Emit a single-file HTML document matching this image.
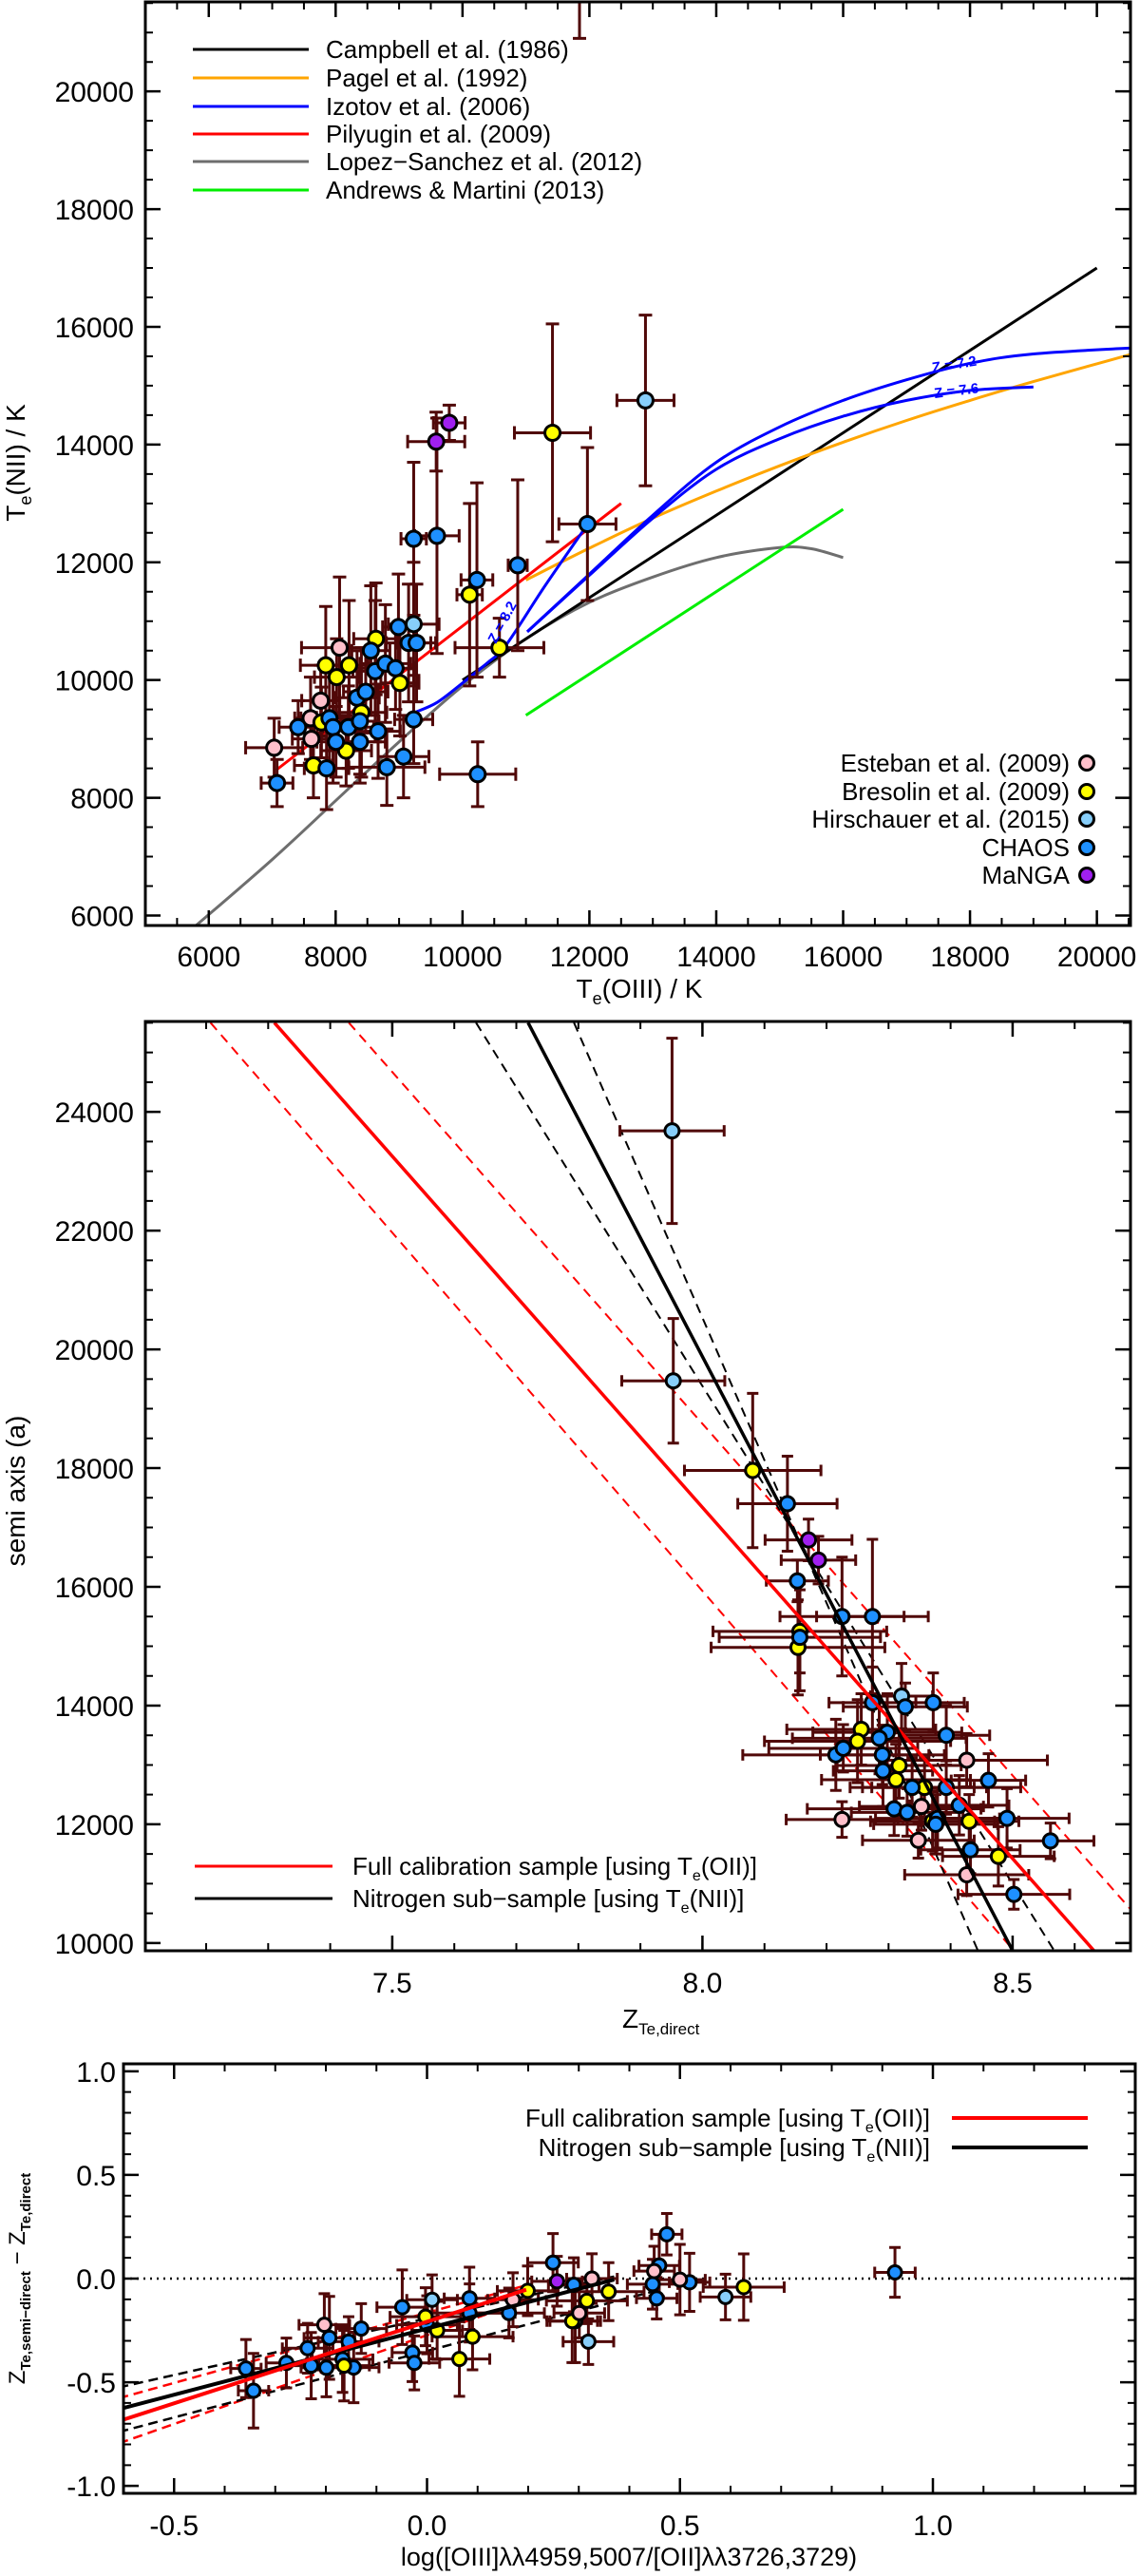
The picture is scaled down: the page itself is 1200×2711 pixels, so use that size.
<!DOCTYPE html>
<html><head><meta charset="utf-8"><title>Te calibration figures</title>
<style>
html,body{margin:0;padding:0;background:#fff;}
svg{display:block;font-family:"Liberation Sans",sans-serif;}
</style></head>
<body>
<svg id="fig" width="1200" height="2711" viewBox="0 0 1200 2711" xmlns="http://www.w3.org/2000/svg">
<rect x="0" y="0" width="1200" height="2711" fill="#fff"/>
<defs>
<clipPath id="c1"><rect x="153" y="2" width="1037" height="972"/></clipPath>
<clipPath id="c2"><rect x="153" y="1075" width="1037" height="978"/></clipPath>
<clipPath id="c3"><rect x="130" y="2172" width="1065" height="452"/></clipPath>
</defs>
<g id="p1"></g>
<g id="p2"></g>
<g id="p3"></g>

<!-- Panel 1 labels -->
<text x="673" y="1050" font-size="28" text-anchor="middle">T<tspan font-size="18" dy="7">e</tspan><tspan dy="-7">(OIII)  /  K</tspan></text>
<text transform="translate(26,487) rotate(-90)" font-size="28" text-anchor="middle">T<tspan font-size="18" dy="7">e</tspan><tspan dy="-7">(NII)  /  K</tspan></text>
<g font-size="26">
<line x1="203" y1="52" x2="325" y2="52" stroke="#000" stroke-width="3"/><text x="343" y="61">Campbell et al. (1986)</text>
<line x1="203" y1="82" x2="325" y2="82" stroke="#ffa500" stroke-width="3"/><text x="343" y="91">Pagel et al. (1992)</text>
<line x1="203" y1="112" x2="325" y2="112" stroke="#0000ff" stroke-width="3"/><text x="343" y="121">Izotov et al. (2006)</text>
<line x1="203" y1="141" x2="325" y2="141" stroke="#ff0000" stroke-width="3"/><text x="343" y="150">Pilyugin et al. (2009)</text>
<line x1="203" y1="170" x2="325" y2="170" stroke="#6e6e6e" stroke-width="3"/><text x="343" y="179">Lopez−Sanchez et al. (2012)</text>
<line x1="203" y1="200" x2="325" y2="200" stroke="#00ee00" stroke-width="3"/><text x="343" y="209">Andrews &amp; Martini (2013)</text>
</g>
<g font-size="26" text-anchor="end">
<text x="1126" y="812">Esteban et al. (2009)</text><circle cx="1144" cy="803" r="7.5" fill="#ffc0cb" stroke="#000" stroke-width="3"/>
<text x="1126" y="842">Bresolin et al. (2009)</text><circle cx="1144" cy="833" r="7.5" fill="#ffff00" stroke="#000" stroke-width="3"/>
<text x="1126" y="871">Hirschauer et al. (2015)</text><circle cx="1144" cy="862" r="7.5" fill="#87cefa" stroke="#000" stroke-width="3"/>
<text x="1126" y="901">CHAOS</text><circle cx="1144" cy="892" r="7.5" fill="#1e90ff" stroke="#000" stroke-width="3"/>
<text x="1126" y="930">MaNGA</text><circle cx="1144" cy="921" r="7.5" fill="#a020f0" stroke="#000" stroke-width="3"/>
</g>
<text x="982" y="392" font-size="15" font-weight="bold" fill="#0000ff" transform="rotate(-9 982 392)">Z = 7.2</text>
<text x="984" y="419" font-size="15" font-weight="bold" fill="#0000ff" transform="rotate(-7 984 419)">Z = 7.6</text>
<text x="522" y="678" font-size="15" font-weight="bold" fill="#0000ff" transform="rotate(-62 522 678)">Z = 8.2</text>

<!-- Panel 2 labels -->
<text x="655" y="2134" font-size="28">Z<tspan font-size="17" dy="7">Te,direct</tspan></text>
<text transform="translate(26,1569) rotate(-90)" font-size="28" text-anchor="middle">semi axis (a)</text>
<g font-size="26">
<line x1="205" y1="1964" x2="350" y2="1964" stroke="#ff0000" stroke-width="3"/>
<text x="371" y="1973">Full calibration sample [using T<tspan font-size="16" dy="6">e</tspan><tspan dy="-6">(OII)]</tspan></text>
<line x1="205" y1="1998" x2="350" y2="1998" stroke="#000" stroke-width="3"/>
<text x="371" y="2007">Nitrogen sub−sample [using T<tspan font-size="16" dy="6">e</tspan><tspan dy="-6">(NII)]</tspan></text>
</g>

<!-- Panel 3 labels -->
<text x="662" y="2700" font-size="27" text-anchor="middle">log([OIII]λλ4959,5007/[OII]λλ3726,3729)</text>
<text transform="translate(26,2398) rotate(-90)" font-size="24" text-anchor="middle">Z<tspan font-size="15" dy="6" font-weight="bold">Te,semi−direct</tspan><tspan dy="-6">  −  Z</tspan><tspan font-size="15" dy="6" font-weight="bold">Te,direct</tspan></text>
<g font-size="26" text-anchor="end">
<text x="979" y="2238">Full calibration sample [using T<tspan font-size="16" dy="6">e</tspan><tspan dy="-6">(OII)]</tspan></text>
<line x1="1002" y1="2229" x2="1145" y2="2229" stroke="#ff0000" stroke-width="4"/>
<text x="979" y="2269">Nitrogen sub−sample [using T<tspan font-size="16" dy="6">e</tspan><tspan dy="-6">(NII)]</tspan></text>
<line x1="1002" y1="2260" x2="1145" y2="2260" stroke="#000" stroke-width="4"/>
</g>
</svg>

<script>
// ---------------- Panel 1 data ----------------
const p1XTicks = [6000, 8000, 10000, 12000, 14000, 16000, 18000, 20000];
const p1YTicks = [6000, 8000, 10000, 12000, 14000, 16000, 18000, 20000];
const p1TeO3 = [7031,7617,7605,7765,8062, 7844,8016,8211,8635,7650,7776,8406,8165,9013,10112,10582,11418, 9230,12884,
  7076,7409,7856,7902,7959,8005,8200,8337,8474,8383,8383,8555,8623,8784,8669,8944,8807,8990,9070,9150,9276,9230,9230,9597,10227,10870,11969,10239, 9585,9791, 11844];
const p1TeN2 = [8850,9000,9350,9650,10550, 10250,10050,10250,10700,8550,9280,9450,8800,9950,11450,10550,14200, 10950,14750,
  8250,9200,8500,9350,9200,8950,9200,9700,9800,8950,9300,10500,10150,10280,9130,10200,8520,10900,8700,10630,10630,9330,12400,12450,11700,11950,12650,8400, 14050,14370, 23000];
const p1ErrX = [450,300,250,300,600, 400,350,300,350,300,350,400,400,300,200,700,600, 400,450,
  250,300,350,450,300,300,400,350,350,400,300,300,350,400,350,300,600,250,400,350,300,300,200,350,250,150,450,600, 450,250, 0];
const p1ErrY = [500,450,700,600,1200, 1000,650,1100,950,550,600,1100,600,900,1550,500,1850, 1050,1450,
  400,450,700,800,950,600,700,800,700,700,900,1100,1200,1000,800,700,650,900,700,1000,1000,750,1300,2000,1650,1450,1300,550, 500,300, 2100];
const p1Type = ['pink','pink','pink','pink','pink','yellow','yellow','yellow','yellow','yellow','yellow','yellow','yellow','yellow','yellow','yellow','yellow','lblue','lblue',
  'blue','blue','blue','blue','blue','blue','blue','blue','blue','blue','blue','blue','blue','blue','blue','blue','blue','blue','blue','blue','blue','blue','blue','blue','blue','blue','blue','blue','purple','purple','blue'];

const campbellX = [10000, 20000];
const campbellY = [10000, 17000];
const pagelX = [11000, 12000, 13000, 14000, 15000, 16000, 17000, 18000, 19000, 20530];
const pagelY = [11700, 12240, 12750, 13210, 13640, 14040, 14410, 14750, 15070, 15530];
const pilyuginX = [7060, 12500];
const pilyuginY = [8470, 13000];
const izotov82X = [9250, 9600, 10000, 10400, 10690, 11300, 11962];
const izotov82Y = [9450, 9620, 9950, 10300, 10600, 11600, 12630];
const izotov72X = [11020, 12000, 13000, 14000, 15000, 16000, 17000, 18000, 19000, 20530];
const izotov72Y = [10820, 11800, 12800, 13700, 14300, 14750, 15100, 15380, 15540, 15640];
const izotov76X = [11020, 12000, 13000, 14000, 15000, 16000, 17000, 18000, 19000];
const izotov76Y = [10820, 11780, 12750, 13580, 14100, 14480, 14750, 14920, 14980];
const lopezX = [5800, 7000, 8000, 9000, 10000, 11000, 12000, 13000, 14000, 15000, 15500, 16000];
const lopezY = [5830, 6950, 7950, 8950, 9900, 10700, 11320, 11750, 12080, 12250, 12230, 12080];
const andrewsX = [11000, 16000];
const andrewsY = [9400, 12900];

// ---------------- Panel 2 data ----------------
const p2XTicks = [7.5, 8.0, 8.5];
const p2YTicks = [10000, 12000, 14000, 16000, 18000, 20000, 22000, 24000];
const p2Z = [7.951,7.953,8.321, 8.081,8.157,8.154,8.256,8.250,8.317,8.312,8.358,8.371,8.430,8.477,
  8.137,8.153,8.225,8.274,8.157,8.274,8.327,8.372,8.393,8.298,8.285,8.290,8.215,8.227,8.291,8.338,8.393,8.309,8.330,8.379,8.414,8.461,8.491,8.561,8.502,8.432,8.376,
  8.171,8.187, 8.225,8.353,8.348,8.426,8.426];
const p2A = [23680,19470,14160, 17960,15250,14980,13600,13400,12990,12750,12620,12050,12050,11460,
  17400,16100,15500,15500,15150,14050,13980,14050,13500,13550,13450,13170,13170,13280,12900,12620,12620,12260,12200,12100,12320,12740,12100,11720,10820,11570,12000,
  16790,16450, 12080,12300,11730,13080,11150];
const p2ErrZ = [0.084,0.083,0.05, 0.11,0.14,0.14,0.12,0.15,0.1,0.12,0.1,0.1,0.08,0.09,
  0.08,0.05,0.1,0.09,0.13,0.07,0.1,0.05,0.07,0.12,0.14,0.1,0.15,0.12,0.08,0.1,0.12,0.14,0.09,0.1,0.08,0.06,0.1,0.07,0.09,0.08,0.1,
  0.07,0.06, 0.09,0.1,0.09,0.13,0.1];
const p2ErrA = [1560,1050,550, 1300,700,800,600,700,550,600,500,500,450,500,
  800,350,1000,1300,900,600,400,500,500,650,600,500,600,400,600,500,450,450,400,500,500,450,500,300,250,400,500,
  350,400, 300,400,300,450,350];
const p2Type = ['lblue','lblue','lblue','yellow','yellow','yellow','yellow','yellow','yellow','yellow','yellow','yellow','yellow','yellow',
  'blue','blue','blue','blue','blue','blue','blue','blue','blue','blue','blue','blue','blue','blue','blue','blue','blue','blue','blue','blue','blue','blue','blue','blue','blue','blue','blue',
  'purple','purple','pink','pink','pink','pink','pink'];
const p2FitRedX = [7.310, 8.631];
const p2FitRedY = [25502, 9871];
const p2FitRedLoX = [7.207, 8.502];
const p2FitRedLoY = [25502, 9871];
const p2FitRedHiX = [7.430, 8.702];
const p2FitRedHiY = [25502, 10429];
const p2FitBlkX = [7.719, 8.500];
const p2FitBlkY = [25502, 9871];
const p2FitBlkAX = [7.635, 8.567];
const p2FitBlkAY = [25502, 9871];
const p2FitBlkBX = [7.793, 8.444];
const p2FitBlkBY = [25502, 9871];

// ---------------- Panel 3 data ----------------
const p3XTicks = [-0.5, 0.0, 0.5, 1.0];
const p3YTicks = [-1.0, -0.5, 0.0, 0.5, 1.0];
const p3LogR = [-0.358,-0.343,-0.278,-0.236,-0.229,-0.199,-0.193,-0.167,-0.155,-0.145,-0.130,-0.049,-0.029,-0.025,0.084,0.084,0.249,0.290,0.454,0.446,0.459,0.474,0.519,0.925,0.162,0.000,
  0.010,0.319,0.590,0.293,
  -0.164,-0.003,0.020,0.064,0.090,0.199,0.287,0.316,0.359,0.626,
  -0.203,0.170,0.301,0.326,0.449,0.500,
  0.257];
const p3dZ = [-0.434,-0.541,-0.407,-0.336,-0.420,-0.430,-0.286,-0.389,-0.304,-0.429,-0.241,-0.138,-0.357,-0.407,-0.095,-0.166,0.077,-0.030,-0.095,-0.027,0.063,0.214,-0.018,0.030,-0.166,-0.223,
  -0.102,-0.304,-0.089,-0.205,
  -0.420,-0.184,-0.250,-0.388,-0.280,-0.059,-0.205,-0.107,-0.063,-0.041,
  -0.223,-0.102,-0.166,0.000,0.036,-0.005,
  -0.013];
const p3ErrX = [0.03,0.03,0.04,0.05,0.06,0.05,0.05,0.06,0.06,0.05,0.05,0.05,0.04,0.05,0.05,0.09,0.05,0.05,0.04,0.05,0.04,0.03,0.04,0.04,0.07,0.06,
  0.05,0.05,0.05,0.05,
  0.05,0.07,0.05,0.06,0.08,0.06,0.05,0.08,0.07,0.08,
  0.05,0.05,0.05,0.05,0.04,0.05,
  0.05];
const p3ErrY = [0.14,0.18,0.12,0.12,0.16,0.14,0.2,0.16,0.12,0.17,0.12,0.18,0.14,0.13,0.15,0.14,0.14,0.13,0.1,0.12,0.15,0.1,0.14,0.12,0.12,0.14,
  0.12,0.11,0.11,0.2,
  0.17,0.14,0.14,0.18,0.16,0.12,0.2,0.11,0.14,0.16,
  0.15,0.13,0.12,0.12,0.12,0.17,
  0.12];
const p3Type = ['blue','blue','blue','blue','blue','blue','blue','blue','blue','blue','blue','blue','blue','blue','blue','blue','blue','blue','blue','blue','blue','blue','blue','blue','blue','blue',
  'lblue','lblue','lblue','lblue',
  'yellow','yellow','yellow','yellow','yellow','yellow','yellow','yellow','yellow','yellow',
  'pink','pink','pink','pink','pink','pink','purple'];
const p3FitRedX = [-0.609, 0.196];
const p3FitRedY = [-0.6875, -0.0536];
const p3FitRedHiX = [-0.609, 0.196];
const p3FitRedHiY = [-0.577, -0.032];
const p3FitRedLoX = [-0.609, 0.196];
const p3FitRedLoY = [-0.795, -0.105];
const p3FitBlkX = [-0.609, 0.370];
const p3FitBlkY = [-0.630, -0.005];
const p3FitBlkHiX = [-0.609, 0.370];
const p3FitBlkHiY = [-0.525, 0.010];
const p3FitBlkLoX = [-0.609, 0.450];
const p3FitBlkLoY = [-0.740, -0.060];

// ---------------- drawing ----------------
const NS = 'http://www.w3.org/2000/svg';
const COLORS = {pink:'#ffc0cb', yellow:'#ffff00', lblue:'#87cefa', blue:'#1e90ff', purple:'#a020f0'};
const ERRC = '#500808';
function mk(tag, attrs, parent){
  const e = document.createElementNS(NS, tag);
  for (const k in attrs) e.setAttribute(k, attrs[k]);
  parent.appendChild(e);
  return e;
}
function scale(d0, d1, r0, r1){ return v => r0 + (v - d0) / (d1 - d0) * (r1 - r0); }

function drawFrame(g, box, sx, sy, xt, yt, xMinor, yMinor, xr, yr, fmtX, fmtY, xLabY, yLabX){
  const frame = mk('rect', {x:box.l, y:box.t, width:box.r-box.l, height:box.b-box.t, fill:'none', stroke:'#000', 'stroke-width':3}, g);
  
  
  const n0 = Math.ceil(xr[0]/xMinor - 1e-6), n1 = Math.floor(xr[1]/xMinor + 1e-6);
  for (let i = n0; i <= n1; i++){
    const x = sx(i*xMinor);
    const t = mk('path', {d:`M${x},${box.b}v-8M${x},${box.t}v8`, stroke:'#000', 'stroke-width':2}, g);
    
    
  }
  const m0 = Math.ceil(yr[0]/yMinor - 1e-6), m1 = Math.floor(yr[1]/yMinor + 1e-6);
  for (let i = m0; i <= m1; i++){
    const y = sy(i*yMinor);
    const t = mk('path', {d:`M${box.l},${y}h8M${box.r},${y}h-8`, stroke:'#000', 'stroke-width':2}, g);
    
    
  }
  xt.forEach(v => {
    const x = sx(v);
    const t = mk('path', {d:`M${x},${box.b}v-16M${x},${box.t}v16`, stroke:'#000', 'stroke-width':2.5}, g);
    
    
    const lb = mk('text', {x:x, y:xLabY, 'font-size':30, 'text-anchor':'middle'}, g);
    
    
    lb.textContent = fmtX(v);
  });
  yt.forEach(v => {
    const y = sy(v);
    const t = mk('path', {d:`M${box.l},${y}h16M${box.r},${y}h-16`, stroke:'#000', 'stroke-width':2.5}, g);
    
    
    const lb = mk('text', {x:yLabX, y:y+11, 'font-size':30, 'text-anchor':'end'}, g);
    
    
    lb.textContent = fmtY(v);
  });
}
function smoothPath(pts){
  if (pts.length < 3) return pts.map((p,i) => (i ? 'L' : 'M') + p[0].toFixed(1) + ',' + p[1].toFixed(1)).join('');
  let d = 'M' + pts[0][0].toFixed(1) + ',' + pts[0][1].toFixed(1);
  for (let i = 0; i < pts.length - 1; i++){
    const p0 = pts[i-1] || pts[i], p1 = pts[i], p2 = pts[i+1], p3 = pts[i+2] || pts[i+1];
    const c1 = [p1[0] + (p2[0]-p0[0])/6, p1[1] + (p2[1]-p0[1])/6];
    const c2 = [p2[0] - (p3[0]-p1[0])/6, p2[1] - (p3[1]-p1[1])/6];
    d += 'C' + c1[0].toFixed(1) + ',' + c1[1].toFixed(1) + ' ' + c2[0].toFixed(1) + ',' + c2[1].toFixed(1) + ' ' + p2[0].toFixed(1) + ',' + p2[1].toFixed(1);
  }
  return d;
}
function drawLine(g, xs, ys, sx, sy, color, width, dash, name){
  const pts = xs.map((v,i) => [sx(v), sy(ys[i])]);
  const p = mk('path', {d:smoothPath(pts), fill:'none', stroke:color, 'stroke-width':width}, g);
  if (dash) p.setAttribute('stroke-dasharray', dash);
  
  
}
function drawPoints(g, xs, ys, ex, ey, types, sx, sy, r, cap){
  xs.forEach((v,i) => {
    const x = sx(v), y = sy(ys[i]);
    let d = '';
    if (ex[i] > 0){
      const xa = sx(v - ex[i]), xb = sx(v + ex[i]);
      d += `M${xa},${y}H${xb}M${xa},${y-cap}v${2*cap}M${xb},${y-cap}v${2*cap}`;
    }
    if (ey[i] > 0){
      const ya = sy(ys[i] - ey[i]), yb = sy(ys[i] + ey[i]);
      d += `M${x},${ya}V${yb}M${x-cap},${ya}h${2*cap}M${x-cap},${yb}h${2*cap}`;
    }
    const eb = mk('path', {d:d, stroke:ERRC, 'stroke-width':3, fill:'none'}, g);
    
    
  });
  xs.forEach((v,i) => {
    const c = mk('circle', {cx:sx(v), cy:sy(ys[i]), r:r, fill:COLORS[types[i]], stroke:'#000', 'stroke-width':3}, g);
    
    
  });
}

// Panel 1
(function(){
  const g = document.getElementById('p1');
  const box = {l:153, t:2, r:1190, b:974};
  const xr = [5000, 20530], yr = [5830, 21520];
  const sx = scale(xr[0], xr[1], box.l, box.r), sy = scale(yr[0], yr[1], box.b, box.t);
  const cg = mk('g', {'clip-path':'url(#c1)'}, g);
  
  
  drawLine(cg, lopezX, lopezY, sx, sy, '#6e6e6e', 3, null, 'lopez-sanchez-curve');
  drawLine(cg, andrewsX, andrewsY, sx, sy, '#00ee00', 3, null, 'andrews-martini-line');
  drawLine(cg, campbellX, campbellY, sx, sy, '#000', 3, null, 'campbell-line');
  drawLine(cg, pagelX, pagelY, sx, sy, '#ffa500', 3, null, 'pagel-curve');
  drawLine(cg, pilyuginX, pilyuginY, sx, sy, '#ff0000', 3, null, 'pilyugin-line');
  drawLine(cg, izotov82X, izotov82Y, sx, sy, '#0000ff', 3, null, 'izotov-z82-curve');
  drawLine(cg, izotov72X, izotov72Y, sx, sy, '#0000ff', 3, null, 'izotov-z72-curve');
  drawLine(cg, izotov76X, izotov76Y, sx, sy, '#0000ff', 3, null, 'izotov-z76-curve');
  drawPoints(cg, p1TeO3, p1TeN2, p1ErrX, p1ErrY, p1Type, sx, sy, 8, 7);
  drawFrame(g, box, sx, sy, p1XTicks, p1YTicks, 500, 500, xr, yr, v => String(v), v => String(v), 1017, 141);
})();

// Panel 2
(function(){
  const g = document.getElementById('p2');
  const box = {l:153, t:1075, r:1190, b:2053};
  const xr = [7.102, 8.69], yr = [9870, 25523];
  const sx = scale(xr[0], xr[1], box.l, box.r), sy = scale(yr[0], yr[1], box.b, box.t);
  const cg = mk('g', {'clip-path':'url(#c2)'}, g);
  
  
  drawLine(cg, p2FitRedLoX, p2FitRedLoY, sx, sy, '#ff0000', 2, '10,7', 'red-fit-lower-bound');
  drawLine(cg, p2FitRedHiX, p2FitRedHiY, sx, sy, '#ff0000', 2, '10,7', 'red-fit-upper-bound');
  drawLine(cg, p2FitBlkAX, p2FitBlkAY, sx, sy, '#000', 2, '10,7', 'black-fit-bound-a');
  drawLine(cg, p2FitBlkBX, p2FitBlkBY, sx, sy, '#000', 2, '10,7', 'black-fit-bound-b');
  drawPoints(cg, p2Z, p2A, p2ErrZ, p2ErrA, p2Type, sx, sy, 7.5, 6);
  drawLine(cg, p2FitRedX, p2FitRedY, sx, sy, '#ff0000', 3.5, null, 'red-fit-line');
  drawLine(cg, p2FitBlkX, p2FitBlkY, sx, sy, '#000', 3.5, null, 'black-fit-line');
  drawFrame(g, box, sx, sy, p2XTicks, p2YTicks, 0.1, 500, xr, yr, v => v.toFixed(1), v => String(v), 2097, 141);
})();

// Panel 3
(function(){
  const g = document.getElementById('p3');
  const box = {l:130, t:2172, r:1195, b:2624};
  const xr = [-0.6, 1.4], yr = [-1.036, 1.036];
  const sx = scale(xr[0], xr[1], box.l, box.r), sy = scale(yr[0], yr[1], box.b, box.t);
  const cg = mk('g', {'clip-path':'url(#c3)'}, g);
  
  
  drawLine(cg, [xr[0], xr[1]], [0, 0], sx, sy, '#000', 2.5, '2,5', 'zero-reference-line');
  drawLine(cg, p3FitRedHiX, p3FitRedHiY, sx, sy, '#ff0000', 2.5, '10,6', 'red-fit-upper-bound');
  drawLine(cg, p3FitRedLoX, p3FitRedLoY, sx, sy, '#ff0000', 2.5, '10,6', 'red-fit-lower-bound');
  drawLine(cg, p3FitBlkHiX, p3FitBlkHiY, sx, sy, '#000', 2.5, '10,6', 'black-fit-upper-bound');
  drawLine(cg, p3FitBlkLoX, p3FitBlkLoY, sx, sy, '#000', 2.5, '10,6', 'black-fit-lower-bound');
  drawPoints(cg, p3LogR, p3dZ, p3ErrX, p3ErrY, p3Type, sx, sy, 7, 6);
  drawLine(cg, p3FitBlkX, p3FitBlkY, sx, sy, '#000', 4, null, 'black-fit-line');
  drawLine(cg, p3FitRedX, p3FitRedY, sx, sy, '#ff0000', 4, null, 'red-fit-line');
  drawFrame(g, box, sx, sy, p3XTicks, p3YTicks, 0.1, 0.1, xr, yr, v => v.toFixed(1), v => v.toFixed(1), 2668, 122);
})();
</script>
</body></html>
